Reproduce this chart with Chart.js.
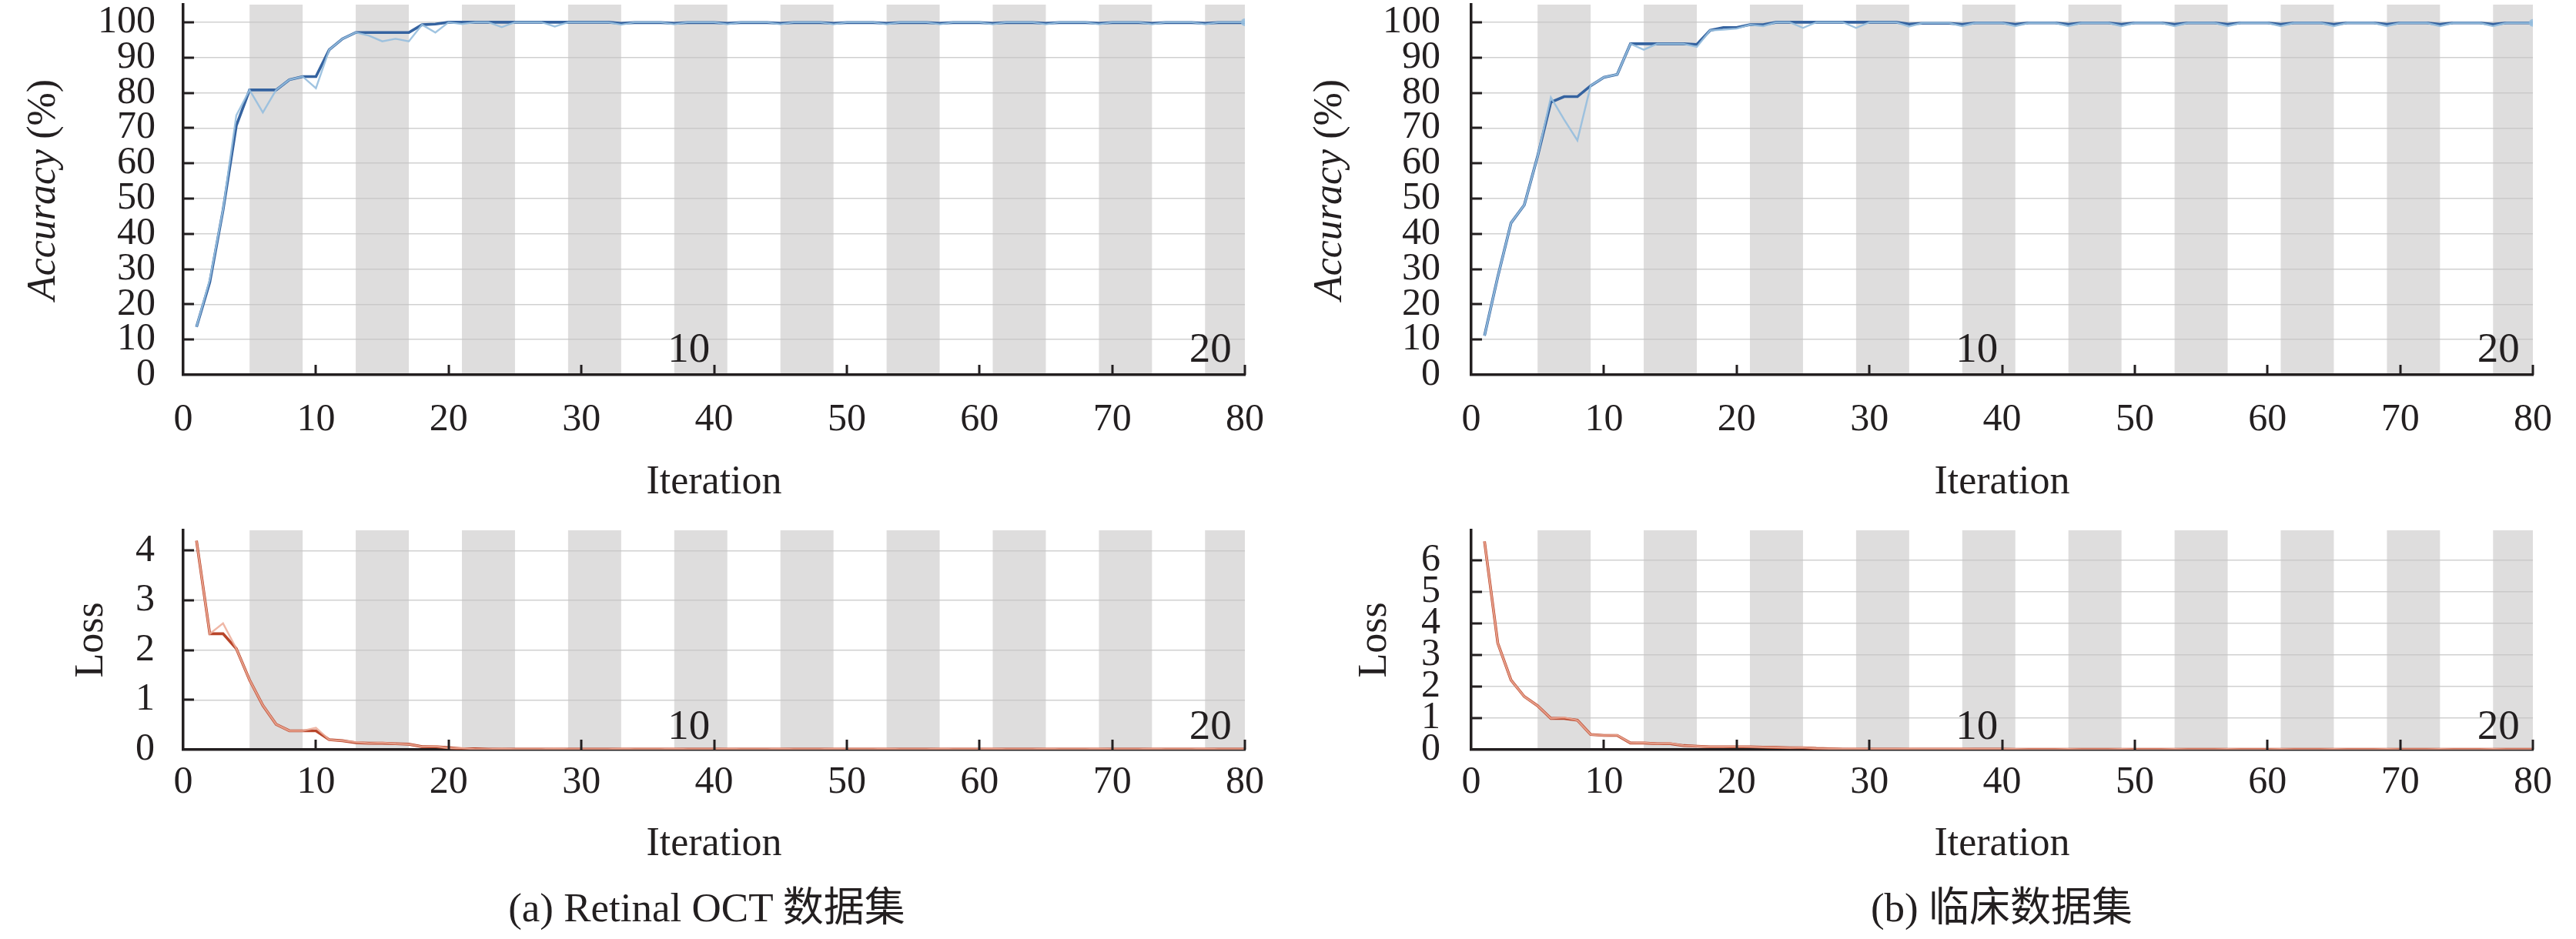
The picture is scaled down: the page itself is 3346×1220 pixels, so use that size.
<!DOCTYPE html>
<html>
<head>
<meta charset="utf-8">
<script src="https://cdn.jsdelivr.net/npm/chart.js@4.4.1/dist/chart.umd.min.js"></script>
<style>
html,body{margin:0;padding:0;background:#ffffff;width:3346px;height:1220px;overflow:hidden;}
canvas{position:absolute;}
.cap{position:absolute;font-family:"Liberation Serif","Noto Sans CJK SC",serif;font-size:53px;line-height:53px;color:#231f20;white-space:nowrap;transform:translateX(-50%);}
</style>
</head>
<body>
<canvas id="accA" width="1673" height="660" style="left:0px;top:0px;width:1673px;height:660px"></canvas>
<canvas id="accB" width="1673" height="660" style="left:1673px;top:0px;width:1673px;height:660px"></canvas>
<canvas id="lossA" width="1673" height="560" style="left:0px;top:660px;width:1673px;height:560px"></canvas>
<canvas id="lossB" width="1673" height="560" style="left:1673px;top:660px;width:1673px;height:560px"></canvas>
<div class="cap" style="left:918px;top:1153px">(a) Retinal OCT 数据集</div>
<div class="cap" style="left:2600px;top:1153px">(b) 临床数据集</div>
<script>
// ---------------- data ----------------
const iterations = [1,2,3,4,5,6,7,8,9,10,11,12,13,14,15,16,17,18,19,20,
  21,22,23,24,25,26,27,28,29,30,31,32,33,34,35,36,37,38,39,40,
  41,42,43,44,45,46,47,48,49,50,51,52,53,54,55,56,57,58,59,60,
  61,62,63,64,65,66,67,68,69,70,71,72,73,74,75,76,77,78,79,80];
const xTicks = [0,10,20,30,40,50,60,70,80];
const accTicks = [0,10,20,30,40,50,60,70,80,90,100];
const lossATicks = [0,1,2,3,4];
const lossBTicks = [0,1,2,3,4,5,6];
const epochBands = [[5,9],[13,17],[21,25],[29,33],[37,41],[45,49],[53,57],[61,65],[69,73],[77,81]];
const epochLabels = ['10','20'];
const epochLabelX = [38.1, 77.4];

// (a) Retinal OCT - accuracy (raw / smoothed)
const accA_raw = [13.6,27.0,47.0,73.6,80.8,74.4,80.8,83.7,84.6,81.3,
  92.2,95.3,97.1,96.2,94.6,95.3,94.6,99.3,97.1,100,
  99.5,100,100,98.6,100,100,100,98.8,100,100,
  100,100,99.3,100,100,100,99.4,100,100,100,
  99.4,100,100,100,99.4,100,100,100,99.4,100,
  100,100,99.4,100,100,100,99.4,100,100,100,
  99.4,100,100,100,99.4,100,100,100,99.4,100,
  100,100,99.4,100,100,100,99.4,100,100,100];
const accA_smooth = [13.6,26.3,46.7,70.7,80.8,80.8,80.8,83.7,84.6,84.6,
  92.2,95.3,97.1,97.1,97.1,97.1,97.1,99.3,99.5,100,
  100,100,100,100,100,100,100,100,100,100,
  100,100,99.7,99.9,99.9,99.9,99.7,99.9,99.9,99.9,
  99.7,99.9,99.9,99.9,99.7,99.9,99.9,99.9,99.7,99.9,
  99.9,99.9,99.7,99.9,99.9,99.9,99.7,99.9,99.9,99.9,
  99.7,99.9,99.9,99.9,99.7,99.9,99.9,99.9,99.7,99.9,
  99.9,99.9,99.7,99.9,99.9,99.9,99.7,99.9,99.9,99.9];
// (b) clinical - accuracy
const accB_raw = [11.1,27.8,43.1,48.2,62.0,78.7,72.4,66.5,82.0,84.4,
  85.2,93.9,92.2,93.9,93.9,93.9,93.0,97.7,97.9,98.2,
  99.3,98.9,100,100,98.4,100,100,100,98.4,100,
  100,100,98.8,99.8,99.8,99.8,98.9,99.8,99.8,99.8,
  98.9,99.8,99.8,99.8,98.9,99.8,99.8,99.8,98.9,99.8,
  99.8,99.8,98.9,99.8,99.8,99.8,98.9,99.8,99.8,99.8,
  98.9,99.8,99.8,99.8,98.9,99.8,99.8,99.8,98.9,99.8,
  99.8,99.8,98.9,99.8,99.8,99.8,98.9,99.8,99.8,99.8];
const accB_smooth = [11.1,27.8,43.1,48.2,62.0,77.3,78.9,78.9,82.0,84.4,
  85.2,93.9,93.9,93.9,93.9,93.9,93.7,97.7,98.5,98.5,
  99.3,99.3,100,100,100,100,100,100,100,100,
  100,100,99.5,99.7,99.7,99.7,99.4,99.8,99.8,99.8,
  99.4,99.8,99.8,99.8,99.4,99.8,99.8,99.8,99.4,99.8,
  99.8,99.8,99.4,99.8,99.8,99.8,99.4,99.8,99.8,99.8,
  99.4,99.8,99.8,99.8,99.4,99.8,99.8,99.8,99.4,99.8,
  99.8,99.8,99.4,99.8,99.8,99.8,99.4,99.8,99.8,99.8];
// (a) loss
const lossA_raw = [4.20,2.33,2.54,2.03,1.40,0.89,0.51,0.38,0.38,0.44,
  0.20,0.18,0.15,0.13,0.14,0.12,0.11,0.06,0.07,0.03,
  0.03,0.01,0.01,0.02,0.01,0.01,0.01,0.02,0.01,0.01,
  0.01,0.01,0.02,0.01,0.01,0.01,0.02,0.01,0.01,0.01,
  0.02,0.01,0.01,0.01,0.02,0.01,0.01,0.01,0.02,0.01,
  0.01,0.01,0.02,0.01,0.01,0.01,0.02,0.01,0.01,0.01,
  0.02,0.01,0.01,0.01,0.02,0.01,0.01,0.01,0.02,0.01,
  0.01,0.01,0.02,0.01,0.01,0.01,0.02,0.01,0.01,0.01];
const lossA_smooth = [4.20,2.33,2.33,2.03,1.40,0.89,0.51,0.38,0.38,0.38,
  0.20,0.18,0.14,0.13,0.13,0.12,0.11,0.06,0.06,0.04,
  0.02,0.02,0.01,0.01,0.01,0.01,0.01,0.01,0.01,0.01,
  0.01,0.01,0.01,0.01,0.01,0.01,0.01,0.01,0.01,0.01,
  0.01,0.01,0.01,0.01,0.01,0.01,0.01,0.01,0.01,0.01,
  0.01,0.01,0.01,0.01,0.01,0.01,0.01,0.01,0.01,0.01,
  0.01,0.01,0.01,0.01,0.01,0.01,0.01,0.01,0.01,0.01,
  0.01,0.01,0.01,0.01,0.01,0.01,0.01,0.01,0.01,0.01];
// (b) loss
const lossB_raw = [6.59,3.37,2.20,1.68,1.39,0.99,1.02,0.93,0.48,0.45,
  0.46,0.21,0.22,0.19,0.20,0.13,0.11,0.09,0.09,0.10,
  0.09,0.08,0.07,0.06,0.07,0.04,0.03,0.02,0.03,0.02,
  0.02,0.02,0.03,0.02,0.02,0.02,0.03,0.02,0.02,0.02,
  0.02,0.01,0.01,0.01,0.02,0.01,0.01,0.01,0.02,0.01,
  0.01,0.01,0.02,0.01,0.01,0.01,0.02,0.01,0.01,0.01,
  0.02,0.01,0.01,0.01,0.02,0.01,0.01,0.01,0.02,0.01,
  0.01,0.01,0.02,0.01,0.01,0.01,0.02,0.01,0.01,0.01];
const lossB_smooth = [6.59,3.37,2.20,1.68,1.39,0.99,0.99,0.93,0.48,0.45,
  0.45,0.21,0.21,0.19,0.19,0.13,0.11,0.09,0.09,0.09,
  0.09,0.08,0.07,0.06,0.06,0.04,0.03,0.02,0.02,0.02,
  0.02,0.02,0.02,0.02,0.02,0.02,0.02,0.02,0.02,0.02,
  0.01,0.01,0.01,0.01,0.01,0.01,0.01,0.01,0.01,0.01,
  0.01,0.01,0.01,0.01,0.01,0.01,0.01,0.01,0.01,0.01,
  0.01,0.01,0.01,0.01,0.01,0.01,0.01,0.01,0.01,0.01,
  0.01,0.01,0.01,0.01,0.01,0.01,0.01,0.01,0.01,0.01];

// ---------------- style ----------------
const FONT = '"Liberation Serif", "Times New Roman", serif';
const TEXT = '#231f20';
const AXIS = '#231f20';
const GRID = 'rgba(196,196,196,0.8)';
const BAND = '#dedddd';
const BLUE_DARK = '#3563a0';
const BLUE_LIGHT = 'rgba(150,190,222,0.9)';
const RED_DARK = '#b8452a';
const RED_LIGHT = 'rgba(236,170,150,0.85)';

const bandsPlugin = {
  id: 'bands',
  beforeDraw(chart) {
    const {ctx, chartArea: a, scales: {x}} = chart;
    ctx.save();
    ctx.beginPath();
    ctx.rect(a.left, a.top, a.right - a.left, a.bottom - a.top);
    ctx.clip();
    ctx.fillStyle = BAND;
    epochBands.forEach(([s, e]) => {
      const x0 = x.getPixelForValue(s), x1 = x.getPixelForValue(e);
      ctx.fillRect(x0, a.top, x1 - x0, a.bottom - a.top);
    });
    ctx.restore();
  }
};

const overlayPlugin = {
  id: 'overlay',
  afterDraw(chart, args, opts) {
    const {ctx, chartArea: a, scales: {x, y}} = chart;
    ctx.save();
    // inward tick marks
    ctx.strokeStyle = AXIS;
    ctx.lineWidth = 3;
    ctx.beginPath();
    xTicks.forEach(v => {
      if (v === 0) return;
      const px = Math.round(x.getPixelForValue(v));
      ctx.moveTo(px, a.bottom);
      ctx.lineTo(px, a.bottom - 13);
    });
    opts.yTicks.forEach(v => {
      if (v === 0) return;
      const py = Math.round(y.getPixelForValue(v));
      ctx.moveTo(a.left, py);
      ctx.lineTo(a.left + 14, py);
    });
    ctx.stroke();
    // epoch labels
    ctx.fillStyle = TEXT;
    ctx.font = '55px ' + FONT;
    ctx.textAlign = 'center';
    ctx.textBaseline = 'alphabetic';
    epochLabels.forEach((t, i) => {
      ctx.fillText(t, x.getPixelForValue(epochLabelX[i]), a.bottom - opts.epochOff);
    });
    // mixed-style y title (Accuracy (%))
    if (opts.accTitleX) {
      const partA = 'Accuracy', partB = ' (%)';
      ctx.font = 'italic 52px ' + FONT;
      const wA = ctx.measureText(partA).width;
      ctx.font = '52px ' + FONT;
      const wB = ctx.measureText(partB).width;
      const total = wA + wB;
      ctx.translate(opts.accTitleX, (a.top + a.bottom) / 2);
      ctx.rotate(-Math.PI / 2);
      ctx.textAlign = 'left';
      ctx.textBaseline = 'middle';
      ctx.font = 'italic 52px ' + FONT;
      ctx.fillText(partA, -total / 2, 0);
      ctx.font = '52px ' + FONT;
      ctx.fillText(partB, -total / 2 + wA, 0);
    }
    ctx.restore();
  }
};

function pts(arr) { return iterations.map((v, i) => ({x: v, y: arr[i]})); }

function makeChart(id, c) {
  const last = iterations.length - 1;
  return new Chart(document.getElementById(id), {
    type: 'line',
    data: {
      datasets: [
        {
          data: pts(c.raw), borderColor: c.light, borderWidth: 2.4, tension: 0,
          pointRadius: ctx => (ctx.dataIndex === last ? c.dot : 0),
          pointBackgroundColor: c.light, pointBorderWidth: 0, pointHoverRadius: 0
        },
        {
          data: pts(c.smooth), borderColor: c.dark, borderWidth: 3.6, tension: 0,
          pointRadius: 0, pointHoverRadius: 0
        }
      ]
    },
    options: {
      responsive: false,
      animation: false,
      events: [],
      layout: {padding: {left: 0, right: 56, top: c.top, bottom: 0}},
      plugins: {
        legend: {display: false},
        tooltip: {enabled: false},
        overlay: {yTicks: c.yTicks, epochOff: c.epochOff, accTitleX: c.accTitleX}
      },
      scales: {
        x: {
          type: 'linear', min: 0, max: 80,
          afterBuildTicks: s => { s.ticks = xTicks.map(v => ({value: v})); },
          afterFit: s => { s.height = c.xh; s.paddingLeft = 0; s.paddingRight = 0; },
          grid: {display: false, drawTicks: false},
          border: {display: true, color: AXIS, width: 3.5},
          ticks: {font: {family: FONT, size: 50, lineHeight: 1}, color: TEXT, padding: c.xpad, maxRotation: 0, autoSkip: false},
          title: {display: true, text: 'Iteration', color: TEXT, font: {family: FONT, size: 52, lineHeight: 1}, padding: {top: 0, bottom: c.xtitlePad}}
        },
        y: {
          type: 'linear', min: 0, max: c.ymax,
          afterBuildTicks: s => { s.ticks = c.yTicks.map(v => ({value: v})); },
          afterFit: s => { s.width = 238; s.paddingTop = 0; s.paddingBottom = 0; },
          grid: {
            color: ctx => (ctx.tick && ctx.tick.value === 0 ? 'rgba(0,0,0,0)' : GRID),
            lineWidth: 1.6, drawTicks: false
          },
          border: {display: true, color: AXIS, width: 3.5},
          ticks: {font: {family: FONT, size: 50, lineHeight: 1}, color: TEXT, padding: c.ypad, autoSkip: false},
          title: c.yTitle
            ? {display: true, text: c.yTitle, color: TEXT, font: {family: FONT, size: 52, lineHeight: 1}, padding: {top: c.ytitlePad, bottom: 0}}
            : {display: false}
        }
      }
    },
    plugins: [bandsPlugin, overlayPlugin]
  });
}

makeChart('accA', {raw: accA_raw, smooth: accA_smooth, light: BLUE_LIGHT, dark: BLUE_DARK, dot: 5,
  ymax: 105, yTicks: accTicks, top: 6, xh: 173, xpad: 34, xtitlePad: 7, ypad: 36,
  accTitleX: 57, epochOff: 17});
makeChart('accB', {raw: accB_raw, smooth: accB_smooth, light: BLUE_LIGHT, dark: BLUE_DARK, dot: 5,
  ymax: 105, yTicks: accTicks, top: 6, xh: 173, xpad: 34, xtitlePad: 7, ypad: 40,
  accTitleX: 55, epochOff: 17});
makeChart('lossA', {raw: lossA_raw, smooth: lossA_smooth, light: RED_LIGHT, dark: RED_DARK, dot: 0,
  ymax: 4.41, yTicks: lossATicks, top: 29, xh: 246, xpad: 18, xtitlePad: 97, ypad: 37,
  yTitle: 'Loss', ytitlePad: 93, epochOff: 14});
makeChart('lossB', {raw: lossB_raw, smooth: lossB_smooth, light: RED_LIGHT, dark: RED_DARK, dot: 0,
  ymax: 6.94, yTicks: lossBTicks, top: 29, xh: 246, xpad: 18, xtitlePad: 97, ypad: 40,
  yTitle: 'Loss', ytitlePad: 87, epochOff: 14});
</script>
</body>
</html>
